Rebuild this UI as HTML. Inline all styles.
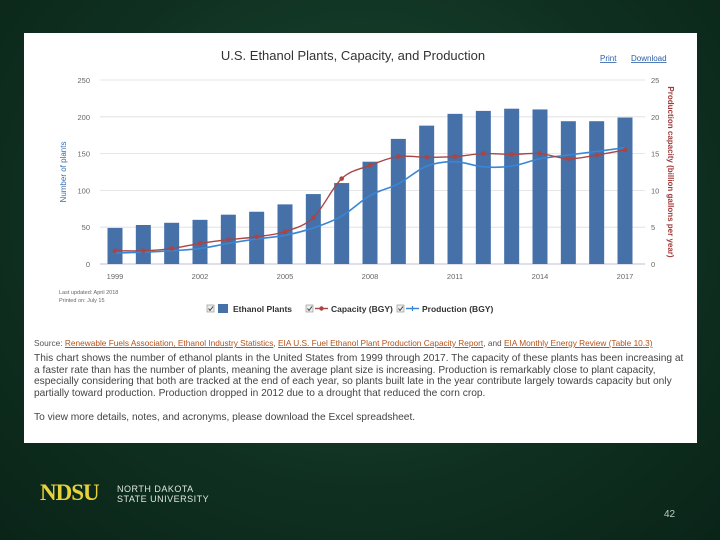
<!DOCTYPE html>
<html><head><meta charset="utf-8"><style>
body{margin:0;width:720px;height:540px;overflow:hidden;background:radial-gradient(ellipse at 50% 40%,#1c4a32 0%,#0f3021 60%,#0a2418 100%);font-family:"Liberation Sans",sans-serif;position:relative}
#panel{position:absolute;left:24px;top:33px;width:673px;height:410px;background:#fff}
.t{position:absolute;white-space:nowrap}
a{color:#b5521b;text-decoration:underline}
</style></head><body>
<div id="panel">
<svg width="673" height="410" style="position:absolute;left:0;top:0" id="svg"></svg>
<div class="t" style="left:35px;top:257px;font-size:5.5px;color:#666">Last updated: April 2018</div>
<div class="t" style="left:35px;top:265px;font-size:5.5px;color:#666">Printed on: July 15</div>
<div class="t" style="left:10px;top:305px;font-size:8.3px;color:#555">Source: <a>Renewable Fuels Association, Ethanol Industry Statistics</a>, <a>EIA U.S. Fuel Ethanol Plant Production Capacity Report</a>, and <a>EIA Monthly Energy Review (Table 10.3)</a></div>
<div class="t" style="left:10px;top:320px;width:650px;white-space:normal;font-size:10.2px;line-height:11.7px;color:#444">This chart shows the number of ethanol plants in the United States from 1999 through 2017. The capacity of these plants has been increasing at a faster rate than has the number of plants, meaning the average plant size is increasing. Production is remarkably close to plant capacity, especially considering that both are tracked at the end of each year, so plants built late in the year contribute largely towards capacity but only partially toward production. Production dropped in 2012 due to a drought that reduced the corn crop.</div>
<div class="t" style="left:10px;top:379px;font-size:10.2px;color:#444">To view more details, notes, and acronyms, please download the Excel spreadsheet.</div>
</div>
<div class="t" style="left:40px;top:480px;font-family:'Liberation Serif',serif;font-weight:bold;font-size:23px;color:#e8d23a;letter-spacing:-1px">NDSU</div>
<div class="t" style="left:117px;top:484px;font-size:9px;line-height:10px;color:#dfe8e2;letter-spacing:0.5px">NORTH DAKOTA<br>STATE UNIVERSITY</div>
<div class="t" style="left:664px;top:509px;font-size:10px;color:#bcc">42</div>
<script>
const years=[1999,2000,2001,2002,2003,2004,2005,2006,2007,2008,2009,2010,2011,2012,2013,2014,2015,2016,2017];
const plants=[49,53,56,60,67,71,81,95,110,139,170,188,204,208,211,210,194,194,199];
const capacity=[1.8,1.8,2.1,2.8,3.3,3.7,4.4,6.3,11.6,13.4,14.6,14.5,14.6,15.0,14.9,15.0,14.3,14.8,15.5];
const production=[1.5,1.6,1.8,2.1,2.8,3.4,3.9,4.9,6.5,9.3,10.9,13.3,13.9,13.2,13.3,14.3,14.8,15.3,15.8];
const leftTicks=[0,50,100,150,200,250];
const rightTicks=[0,5,10,15,20,25];
const xLabels=[1999,2002,2005,2008,2011,2014,2017];
const ns="http://www.w3.org/2000/svg",svg=document.getElementById('svg');
const ox=24,oy=33;
const X=i=>115-ox+i*(510/18);
const YL=v=>264-oy-v*184/250;
const YR=v=>264-oy-v*184/25;
function mk(tag,attrs,parent){const e=document.createElementNS(ns,tag);for(const k in attrs)e.setAttribute(k,attrs[k]);(parent||svg).appendChild(e);return e;}
let t=mk('text',{x:329,y:27,'text-anchor':'middle','font-size':13,fill:'#333'});t.textContent='U.S. Ethanol Plants, Capacity, and Production';


t=mk('text',{x:576,y:28,'font-size':8,fill:'#2a5ea8','text-decoration':'underline'});t.textContent='Print';


t=mk('text',{x:607,y:28,'font-size':8,fill:'#2a5ea8','text-decoration':'underline'});t.textContent='Download';


leftTicks.forEach((v,i)=>{
 const g=mk('line',{x1:X(0)-15,x2:X(18)+20,y1:YL(v),y2:YL(v),stroke:v?'#ddd':'#aac',"stroke-width":0.8});
 
 
 const a=mk('text',{x:90-ox,y:YL(v)+3,'text-anchor':'end','font-size':7.5,fill:'#666'});a.textContent=v;
 
 
 const b=mk('text',{x:651-ox,y:YR(rightTicks[i])+3,'font-size':7.5,fill:'#666'});b.textContent=rightTicks[i];
 
 
});
xLabels.forEach(y=>{const i=years.indexOf(y);const a=mk('text',{x:X(i),y:279-oy,'text-anchor':'middle','font-size':7.5,fill:'#666'});a.textContent=y;
 
 });
t=mk('text',{x:0,y:0,'font-size':8,fill:'#3a6fb0',transform:`translate(${66-ox},${172-oy}) rotate(-90)`,'text-anchor':'middle'});t.textContent='Number of plants';


t=mk('text',{x:0,y:0,'font-size':8,'font-weight':'bold',fill:'#a03a3a',transform:`translate(${668-ox},${172-oy}) rotate(90)`,'text-anchor':'middle'});t.textContent='Production capacity (billion gallons per year)';


plants.forEach((v,i)=>{const r=mk('rect',{x:X(i)-7.5,y:YL(v),width:15,height:YL(0)-YL(v),fill:'#4570a8'});
 
 });
function smooth(pts){let d=`M${pts[0][0]},${pts[0][1]}`;for(let i=0;i<pts.length-1;i++){const p0=pts[i-1]||pts[i],p1=pts[i],p2=pts[i+1],p3=pts[i+2]||p2;d+=` C${p1[0]+(p2[0]-p0[0])/6},${p1[1]+(p2[1]-p0[1])/6} ${p2[0]-(p3[0]-p1[0])/6},${p2[1]-(p3[1]-p1[1])/6} ${p2[0]},${p2[1]}`;}return d;}
const pp=production.map((v,i)=>[X(i),YR(v)]);
let l=mk('path',{d:smooth(pp),fill:'none',stroke:'#3a86d6','stroke-width':1.6});


const cp=capacity.map((v,i)=>[X(i),YR(v)]);
l=mk('path',{d:smooth(cp),fill:'none',stroke:'#a84545','stroke-width':1.4});


cp.forEach(p=>{const c=mk('circle',{cx:p[0],cy:p[1],r:2.3,fill:'#a84545'});
 
 });
const lg=mk('g',{});


function cb(x){const r=mk('rect',{x:x,y:272,width:7,height:7,fill:'#eee',stroke:'#888','stroke-width':0.6},lg);mk('path',{d:`M${x+1.5},${275.5} l1.5,2 l3,-4`,stroke:'#333',fill:'none','stroke-width':0.9},lg);}
cb(183);mk('rect',{x:194,y:271,width:10,height:9,fill:'#4570a8'},lg);
t=mk('text',{x:209,y:279,'font-size':8.5,'font-weight':'bold',fill:'#333'},lg);t.textContent='Ethanol Plants';


cb(282);mk('line',{x1:291,x2:304,y1:275.5,y2:275.5,stroke:'#a84545','stroke-width':1.4},lg);mk('circle',{cx:297.5,cy:275.5,r:2.2,fill:'#a84545'},lg);
t=mk('text',{x:307,y:279,'font-size':8.5,'font-weight':'bold',fill:'#333'},lg);t.textContent='Capacity (BGY)';


cb(373);mk('line',{x1:382,x2:395,y1:275.5,y2:275.5,stroke:'#3a86d6','stroke-width':1.4},lg);mk('path',{d:'M388.5,273 v5 M386,275.5 h5',stroke:'#3a86d6','stroke-width':1.2},lg);
t=mk('text',{x:398,y:279,'font-size':8.5,'font-weight':'bold',fill:'#333'},lg);t.textContent='Production (BGY)';


</script>
</body></html>
